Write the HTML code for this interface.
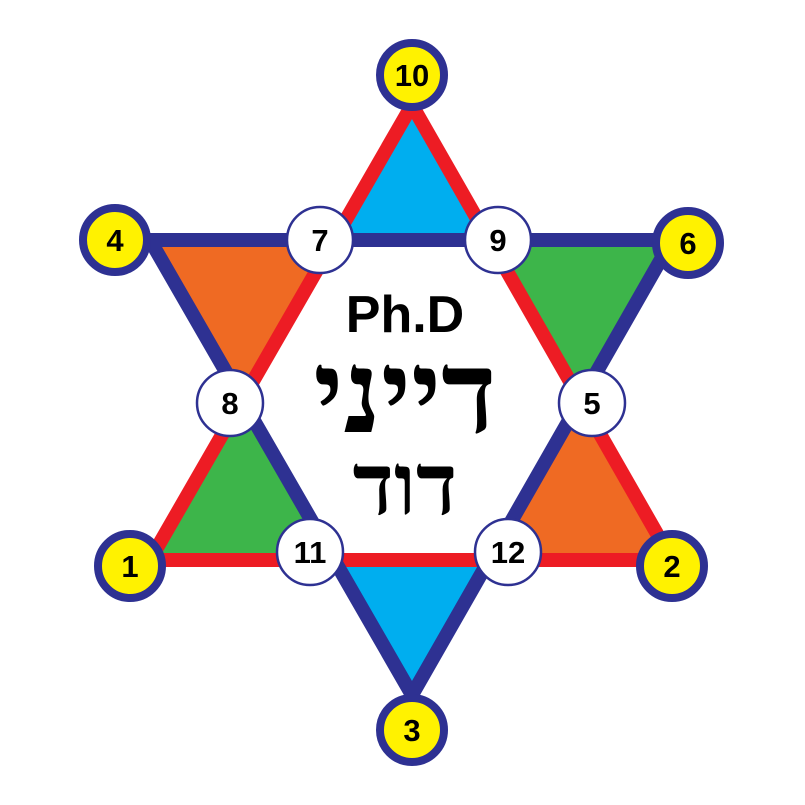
<!DOCTYPE html>
<html><head><meta charset="utf-8"><style>
html,body{margin:0;padding:0;background:#fff;}
svg{display:block;}
</style></head><body>
<svg width="805" height="805" viewBox="0 0 805 805" xmlns="http://www.w3.org/2000/svg">
<polygon points="412,105 334,240 490,240" fill="#00aeef"/>
<polygon points="150,240 334,240 240,400" fill="#ef6a23"/>
<polygon points="490,240 672,240 584,400" fill="#3db54a"/>
<polygon points="240,400 150,560 334,560" fill="#3db54a"/>
<polygon points="584,400 490,560 672,560" fill="#ef6a23"/>
<polygon points="334,560 490,560 412,695" fill="#00aeef"/>
<polygon points="412,105 150,560 672,560" fill="none" stroke="#ed1c24" stroke-width="14" stroke-linejoin="miter"/>
<polygon points="150,240 672,240 412,695" fill="none" stroke="#2e3192" stroke-width="14" stroke-linejoin="miter"/>
<g stroke="#2e3192" stroke-width="8" fill="#fff200">
<circle cx="412" cy="75" r="32"/>
<circle cx="115" cy="240" r="32"/>
<circle cx="688" cy="243" r="32"/>
<circle cx="130" cy="566" r="32"/>
<circle cx="672" cy="566" r="32"/>
<circle cx="412" cy="730" r="32"/>
</g>
<g stroke="#2e3192" stroke-width="2.5" fill="#fff">
<circle cx="320" cy="240" r="33"/>
<circle cx="498" cy="240" r="33"/>
<circle cx="230" cy="403" r="33"/>
<circle cx="592" cy="403" r="33"/>
<circle cx="310" cy="552" r="33"/>
<circle cx="508" cy="552" r="33"/>
</g>
<g font-family="Liberation Sans, DejaVu Sans, sans-serif" font-weight="bold" font-size="31" text-anchor="middle" fill="#000">
<text x="412" y="86">10</text>
<text x="115" y="251">4</text>
<text x="688" y="254">6</text>
<text x="130" y="577">1</text>
<text x="672" y="577">2</text>
<text x="412" y="741">3</text>
<text x="320" y="251">7</text>
<text x="498" y="251">9</text>
<text x="230" y="414">8</text>
<text x="592" y="414">5</text>
<text x="310" y="563">11</text>
<text x="508" y="563">12</text>
</g>
<text x="405" y="332" font-family="Liberation Sans, DejaVu Sans, sans-serif" font-weight="bold" font-size="52" text-anchor="middle">Ph.D</text>
<text x="405" y="432" font-family="Liberation Serif, DejaVu Serif, serif" font-weight="bold" font-size="115" text-anchor="middle">דייני</text>
<text x="405" y="514" font-family="Liberation Serif, DejaVu Serif, serif" font-weight="bold" font-size="86" text-anchor="middle">דוד</text>
</svg>
</body></html>
